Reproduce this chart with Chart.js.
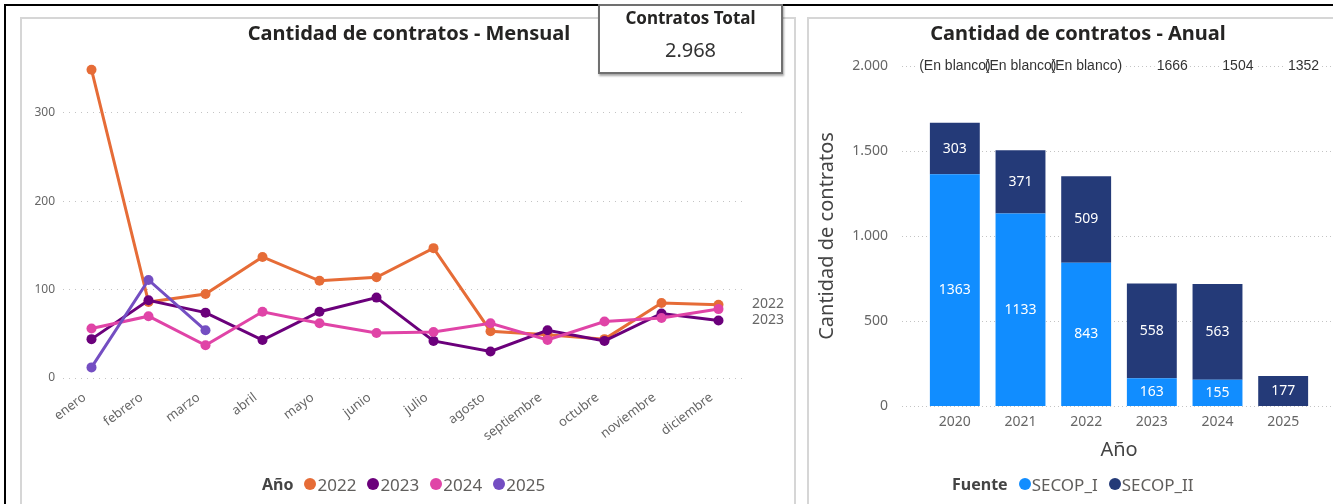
<!DOCTYPE html>
<html lang="es">
<head>
<meta charset="utf-8">
<title>Cantidad de contratos</title>
<script src="https://cdn.jsdelivr.net/npm/chart.js@4.4.1/dist/chart.umd.min.js"></script>
<style>
    html, body { margin: 0; padding: 0; background: #fff; }
    body {
        width: 1333px; height: 504px; position: relative; overflow: hidden;
        font-family: 'Segoe UI', 'Noto Sans', sans-serif;
    }
    .marco-sup { position: absolute; left: 4px; top: 4px; right: 0; height: 2px; background: #000; }
    .marco-izq { position: absolute; left: 4px; top: 4px; width: 2px; bottom: 0; background: #000; }
    .panel {
        position: absolute; top: 17px; bottom: -4px;
        border: 2px solid #d6d6d6; box-sizing: border-box;
    }
    #panelMensual { left: 20px; width: 776px; }
    #panelAnual { left: 807px; width: 540px; }
    canvas { position: absolute; }
    #graficoMensual { left: 20px; top: 18px; }
    #graficoAnual { left: 808px; top: 18px; }
    .titulo {
        position: absolute; top: 19px; font-size: 20px; line-height: 28px; font-weight: bold;
        color: #252423; white-space: nowrap; transform: translateX(-50%);
    }
    .leyenda {
        position: absolute; top: 472px; height: 24px; display: flex; align-items: center;
        font-size: 17px; color: #605e5c; white-space: nowrap;
    }
    .leyenda b { color: #444; font-size: 16px; margin-right: 11px; }
    .leyenda i {
        display: inline-block; width: 12px; height: 12px; border-radius: 50%;
        margin-right: 1px;
    }
    .leyenda span { margin-right: 11px; }
    .tarjeta {
        position: absolute; left: 598px; top: 4px; width: 185px; height: 70px;
        box-sizing: border-box; border: 2px solid #707070; background: #fff;
        box-shadow: 1px 2px 2px rgba(0,0,0,0.35); text-align: center; color: #252423;
    }
    .tarjeta .nombre { position: absolute; left: 0; right: 0; top: 0; font-size: 17px; font-weight: bold; }
    .tarjeta .valor { position: absolute; left: 0; right: 0; top: 30px; font-size: 20px; color: #333; }
</style>
</head>
<body>
<div class="marco-sup"></div>
<div class="marco-izq"></div>
<div class="panel" id="panelMensual"></div>
<div class="panel" id="panelAnual"></div>

<canvas id="graficoMensual" width="774" height="486"></canvas>
<canvas id="graficoAnual" width="525" height="486"></canvas>

<div class="titulo" style="left:409px">Cantidad de contratos - Mensual</div>
<div class="titulo" style="left:1078px">Cantidad de contratos - Anual</div>

<div class="tarjeta">
    <div class="nombre">Contratos Total</div>
    <div class="valor" id="totalContratos"></div>
</div>

<div class="leyenda" id="leyendaMensual" style="left:262px"></div>
<div class="leyenda" id="leyendaAnual" style="left:952px"></div>

<script>
// ---- datos mensuales por año ----
const meses = ['enero', 'febrero', 'marzo', 'abril', 'mayo', 'junio', 'julio',
    'agosto', 'septiembre', 'octubre', 'noviembre', 'diciembre'];
const contratos2022 = [349, 86, 95, 137, 110, 114, 147, 53, 49, 44, 85, 83];
const contratos2023 = [44, 88, 74, 43, 75, 91, 42, 30, 54, 42, 73, 65];
const contratos2024 = [56, 70, 37, 75, 62, 51, 52, 62, 43, 64, 68, 78];
const contratos2025 = [12, 111, 54];

// ---- datos anuales por fuente ----
const anios = ['2020', '2021', '2022', '2023', '2024', '2025'];
const secopI = [1363, 1133, 843, 163, 155, null];
const secopII = [303, 371, 509, 558, 563, 177];
const etiquetasTotales = ['(En blanco)', '(En blanco)', '(En blanco)', '1666', '1504', '1352'];

const COLORES_ANIO = { '2022': '#E66C37', '2023': '#6B007B', '2024': '#E044A7', '2025': '#744EC2' };
const COLOR_SECOP_I = '#118DFF';
const COLOR_SECOP_II = '#243A78';
const FUENTE = '"Segoe UI", "Noto Sans", sans-serif';

// separador de miles con punto (2.968, 1.500 ...)
function formatoMiles(n) {
    return String(n).replace(/\B(?=(\d{3})+(?!\d))/g, '.');
}

const suma = arr => arr.reduce((a, b) => a + (b || 0), 0);
const total = suma(contratos2022) + suma(contratos2023) + suma(contratos2024) + suma(contratos2025);
document.getElementById('totalContratos').textContent = formatoMiles(total);

function armarLeyenda(id, titulo, items) {
    const cont = document.getElementById(id);
    const b = document.createElement('b');
    b.textContent = titulo;
    cont.appendChild(b);
    items.forEach(([texto, color]) => {
        const i = document.createElement('i');
        i.style.background = color;
        const s = document.createElement('span');
        s.textContent = texto;
        cont.appendChild(i);
        cont.appendChild(s);
    });
}
armarLeyenda('leyendaMensual', 'Año', Object.entries(COLORES_ANIO));
armarLeyenda('leyendaAnual', 'Fuente', [['SECOP_I', COLOR_SECOP_I], ['SECOP_II', COLOR_SECOP_II]]);

// etiquetas de meses inclinadas y nombre de serie al final de la línea
const extrasMensual = {
    id: 'extrasMensual',
    afterDraw(chart) {
        const { ctx, chartArea, scales: { x, y } } = chart;
        ctx.save();
        ctx.font = '13px ' + FUENTE;
        ctx.fillStyle = '#666';
        ctx.textAlign = 'right';
        ctx.textBaseline = 'middle';
        meses.forEach((m, i) => {
            ctx.save();
            ctx.translate(x.getPixelForValue(i) - 7, chartArea.bottom + 18);
            ctx.rotate(-37 * Math.PI / 180);
            ctx.fillText(m, 0, 0);
            ctx.restore();
        });

        ctx.font = '14px ' + FUENTE;
        ctx.textAlign = 'left';
        let anterior = -Infinity;
        chart.data.datasets
            .filter(ds => ds.etiquetaFinal)
            .map(ds => ({ texto: ds.label, py: y.getPixelForValue(ds.data[ds.data.length - 1]) }))
            .sort((a, b) => a.py - b.py)
            .forEach(e => {
                const py = Math.max(e.py - 1, anterior + 14);
                ctx.fillText(e.texto, chartArea.right + 5, py);
                anterior = py;
            });
        ctx.restore();
    }
};

function serie(label, data, orden, etiquetaFinal) {
    const c = COLORES_ANIO[label];
    return {
        label, data, order: orden, etiquetaFinal,
        borderColor: c, backgroundColor: c, pointBackgroundColor: c,
        borderWidth: 3, pointRadius: 5, pointBorderWidth: 0, tension: 0
    };
}

new Chart(document.getElementById('graficoMensual'), {
    type: 'line',
    data: {
        labels: meses,
        datasets: [
            serie('2022', contratos2022, 3, true),
            serie('2023', contratos2023, 2, true),
            serie('2024', contratos2024, 1, false),
            serie('2025', contratos2025, 0, false)
        ]
    },
    options: {
        responsive: false,
        animation: false,
        layout: { padding: { left: 0, right: 47, top: 42, bottom: 0 } },
        plugins: { legend: { display: false }, tooltip: { enabled: false } },
        scales: {
            x: {
                offset: true,
                grid: { display: false, drawTicks: false },
                border: { display: false },
                ticks: { display: false },
                afterFit: s => { s.height = 126; }
            },
            y: {
                min: 0, max: 360,
                ticks: { stepSize: 100, color: '#666', padding: 8, font: { size: 12, family: FUENTE } },
                afterBuildTicks: s => { s.ticks = s.ticks.filter(t => t.value % 100 === 0); },
                grid: { color: '#c4c4c4', drawTicks: false, lineWidth: 1 },
                border: { display: false, dash: [1, 5] },
                afterFit: s => { s.width = 43; }
            }
        }
    },
    plugins: [extrasMensual]
});

// líneas punteadas de fondo, valores dentro de las barras y fila superior de totales
const extrasAnual = {
    id: 'extrasAnual',
    beforeDatasetsDraw(chart) {
        const { ctx, scales: { y } } = chart;
        ctx.save();
        ctx.strokeStyle = '#c4c4c4';
        ctx.lineWidth = 1;
        ctx.setLineDash([1, 3]);
        y.ticks.forEach(t => {
            const py = Math.round(y.getPixelForValue(t.value)) + 0.5;
            ctx.beginPath();
            ctx.moveTo(94, py);
            ctx.lineTo(chart.width, py);
            ctx.stroke();
        });
        ctx.restore();
    },
    afterDatasetsDraw(chart) {
        const { ctx, scales: { y } } = chart;
        ctx.save();
        ctx.font = '14px ' + FUENTE;
        ctx.fillStyle = '#fff';
        ctx.textAlign = 'center';
        ctx.textBaseline = 'middle';
        chart.data.datasets.forEach((ds, di) => {
            chart.getDatasetMeta(di).data.forEach((barra, i) => {
                const v = ds.data[i];
                if (v == null) return;
                const p = barra.getProps(['x', 'y', 'base'], true);
                ctx.fillText(String(v), p.x, (p.y + p.base) / 2);
            });
        });

        // fila superior alineada al borde derecho de cada columna
        ctx.font = '14px "Liberation Sans", Arial, sans-serif';
        ctx.textAlign = 'right';
        const py = y.getPixelForValue(y.max);
        const barras = chart.getDatasetMeta(1).data;
        const bordeDerecho = i => {
            const p = barras[i].getProps(['x', 'width'], true);
            return p.x + p.width / 2 + 11;
        };
        etiquetasTotales.forEach((t, i) => {
            const w = ctx.measureText(t).width;
            ctx.fillStyle = '#fff';
            ctx.fillRect(bordeDerecho(i) - w - 2, py - 7, w + 4, 14);
        });
        ctx.fillStyle = '#333';
        etiquetasTotales.forEach((t, i) => {
            ctx.fillText(t, bordeDerecho(i), py);
        });
        ctx.restore();
    }
};

new Chart(document.getElementById('graficoAnual'), {
    type: 'bar',
    data: {
        labels: anios,
        datasets: [
            { label: 'SECOP_I', data: secopI, backgroundColor: COLOR_SECOP_I },
            { label: 'SECOP_II', data: secopII, backgroundColor: COLOR_SECOP_II }
        ]
    },
    options: {
        responsive: false,
        animation: false,
        layout: { padding: { left: 0, right: 17, top: 48, bottom: 0 } },
        datasets: { bar: { barPercentage: 0.76, categoryPercentage: 1 } },
        plugins: { legend: { display: false }, tooltip: { enabled: false } },
        scales: {
            x: {
                stacked: true,
                grid: { display: false, drawTicks: false },
                border: { display: false },
                ticks: { color: '#666', padding: 8, font: { size: 14, family: FUENTE } },
                title: {
                    display: true, text: 'Año', color: '#444',
                    font: { size: 20, family: FUENTE }, padding: { top: 0, bottom: 42 }
                },
                afterFit: s => { s.height = 98; }
            },
            y: {
                stacked: true,
                min: 0, max: 2000,
                ticks: {
                    stepSize: 500, color: '#666', padding: 34,
                    font: { size: 14, family: FUENTE },
                    callback: v => formatoMiles(v)
                },
                grid: { display: false, drawTicks: false },
                border: { display: false },
                title: {
                    display: true, text: 'Cantidad de contratos', color: '#444',
                    font: { size: 20, family: FUENTE }, padding: { top: 7, bottom: 0 }
                },
                afterFit: s => { s.width = 114; }
            }
        }
    },
    plugins: [extrasAnual]
});
</script>
</body>
</html>
